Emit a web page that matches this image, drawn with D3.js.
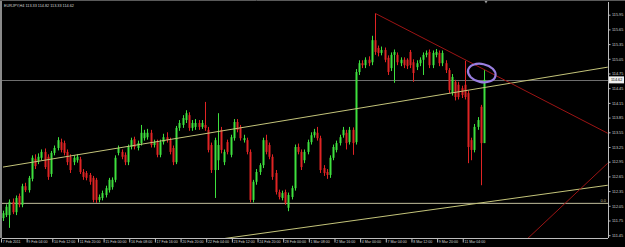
<!DOCTYPE html>
<html>
<head>
<meta charset="utf-8">
<script src="https://cdn.jsdelivr.net/npm/d3@7"></script>
<style>
  html, body { margin: 0; padding: 0; background: #000; }
  svg { display: block; }
</style>
</head>
<body>
<svg id="chart_svg"></svg>
<script>
// EURJPY H4, one value per bar
var opens = [
  111.80,111.86,111.86,112.13,111.92,112.25,112.07,112.45,112.37,112.60,
  113.01,112.95,113.03,113.15,113.05,112.70,113.13,113.23,113.35,113.33,
  113.15,113.05,112.94,112.98,113.00,112.74,112.72,112.68,112.62,112.58,
  112.17,112.21,112.27,112.37,112.43,112.58,113.13,113.15,113.09,112.94,
  113.25,113.41,113.23,113.33,113.43,113.45,113.54,113.29,113.35,113.09,
  113.35,113.45,113.39,113.23,112.94,113.64,113.70,113.80,113.90,113.64,
  113.66,113.74,113.66,113.70,113.60,113.29,112.78,112.98,113.60,112.94,
  113.35,113.09,113.43,113.76,113.66,113.39,113.39,113.15,112.17,112.54,
  112.74,112.88,113.39,113.29,113.05,112.72,112.33,112.21,112.33,112.01,
  112.23,112.41,113.25,113.15,112.98,113.15,113.35,113.49,113.54,113.43,
  112.82,112.74,112.68,113.03,113.19,113.33,113.49,113.54,113.35,113.60,
  113.35,114.78,114.96,114.92,115.03,114.98,115.43,115.27,115.17,115.23,
  115.07,114.86,115.13,115.13,114.96,115.03,115.03,115.19,114.98,114.88,
  114.96,115.03,115.13,115.19,114.92,115.13,115.17,114.96,114.96,114.82,
  114.35,114.58,114.52,114.45,114.52,114.35,113.39,113.19,113.66,114.07,
  113.33
];
var highs = [
  111.95,112.08,112.18,112.20,112.26,112.30,112.50,112.52,112.66,113.08,
  113.10,113.12,113.20,113.22,113.10,113.17,113.28,113.45,113.42,113.38,
  113.20,113.10,113.08,113.10,113.05,112.80,112.76,112.72,112.66,112.62,
  112.28,112.36,112.46,112.62,112.63,113.08,113.28,113.20,113.14,113.30,
  113.44,113.46,113.38,113.70,113.60,113.62,113.60,113.40,113.40,113.40,
  113.52,113.55,113.44,113.28,113.68,113.80,113.90,114.00,113.96,113.80,
  113.82,113.80,113.80,114.17,113.66,113.34,113.44,113.94,113.66,113.20,
  113.40,113.50,113.82,113.82,113.70,113.50,113.44,113.20,112.58,112.80,
  112.92,113.44,113.50,113.34,113.10,112.78,112.38,112.36,112.38,112.32,
  112.46,113.30,113.32,113.20,113.20,113.40,113.55,113.62,113.66,113.48,
  112.88,112.80,113.08,113.30,113.38,113.50,113.66,113.60,113.66,113.65,
  114.84,115.02,115.02,115.08,115.10,115.52,115.98,115.32,115.30,115.28,
  115.12,115.18,115.24,115.18,115.08,115.08,115.06,115.23,115.04,115.02,
  115.08,115.18,115.22,115.24,115.22,115.25,115.22,115.22,115.02,114.86,
  114.74,114.62,114.58,114.50,115.01,114.40,113.44,113.72,113.86,114.11,
  114.82
];
var lows = [
  111.74,111.82,111.60,111.88,111.86,112.02,112.02,112.33,112.32,112.55,
  112.80,112.90,112.98,112.80,112.58,112.64,113.08,113.18,113.14,113.08,
  112.88,112.72,112.88,112.93,112.70,112.58,112.57,112.48,112.12,112.11,
  112.12,112.16,112.22,112.32,112.38,112.53,113.08,113.00,112.88,112.88,
  113.20,113.20,113.18,113.28,113.38,113.40,113.24,113.24,113.04,113.04,
  113.30,113.34,113.10,112.88,112.90,113.58,113.64,113.74,113.58,113.58,
  113.60,113.60,113.62,113.58,113.14,112.72,112.21,112.78,113.12,112.88,
  113.10,113.04,113.38,113.55,113.38,113.34,113.10,112.12,112.12,112.48,
  112.68,112.82,113.10,113.00,112.58,112.28,112.18,112.16,112.07,111.94,
  112.18,112.36,113.10,112.78,112.92,113.10,113.30,113.44,113.38,112.72,
  112.66,112.60,112.62,112.98,113.14,113.28,113.44,113.20,113.30,113.09,
  113.30,114.72,114.86,114.86,114.90,114.92,115.13,115.10,115.12,114.98,
  114.72,114.80,114.56,114.92,114.90,114.86,114.84,114.86,114.58,114.82,
  114.90,114.72,115.08,114.86,114.86,115.08,114.90,114.90,114.76,114.35,
  114.30,114.20,114.22,114.25,114.22,112.92,112.98,113.14,113.60,112.47,
  113.33
];
var closes = [
  111.90,112.03,112.13,111.92,112.21,112.07,112.45,112.37,112.62,113.03,
  112.86,113.05,113.15,112.84,112.64,113.13,113.23,113.39,113.19,113.13,
  112.94,112.78,113.03,113.05,112.74,112.64,112.62,112.54,112.17,112.17,
  112.23,112.31,112.41,112.58,112.58,113.03,113.23,113.05,112.94,113.25,
  113.39,113.25,113.33,113.54,113.54,113.54,113.29,113.35,113.09,113.35,
  113.45,113.39,113.15,112.94,113.64,113.74,113.84,113.94,113.64,113.74,
  113.74,113.66,113.74,113.64,113.19,112.78,113.39,113.29,113.19,113.15,
  113.15,113.45,113.76,113.60,113.43,113.43,113.15,112.17,112.54,112.74,
  112.88,113.39,113.15,113.05,112.64,112.33,112.23,112.31,112.11,112.27,
  112.41,113.25,113.15,112.84,113.15,113.35,113.49,113.56,113.43,112.78,
  112.72,112.68,113.03,113.25,113.33,113.45,113.60,113.33,113.60,113.33,
  114.78,114.96,114.92,115.03,114.96,115.43,115.19,115.17,115.23,115.03,
  114.78,115.13,115.19,114.98,115.03,114.92,114.90,114.92,114.76,114.96,
  115.03,115.13,115.17,114.92,115.17,115.19,114.96,115.17,114.82,114.41,
  114.68,114.27,114.27,114.31,114.27,113.25,113.19,113.66,113.80,113.33,
  114.62
];

// time axis: bar index of each label and its text
var tick_index = [0, 8, 16, 24, 32, 40, 48, 56, 64, 72, 80, 88, 96, 104, 112, 120, 128, 136, 144];
var tick_labels = ["7 Feb 2011", "9 Feb 04:00", "10 Feb 12:00", "11 Feb 20:00", "15 Feb 00:00",
  "16 Feb 08:00", "17 Feb 16:00", "20 Feb 20:00", "22 Feb 04:00", "23 Feb 12:00", "24 Feb 20:00",
  "28 Feb 00:00", "1 Mar 08:00", "2 Mar 16:00", "4 Mar 00:00", "7 Mar 04:00", "8 Mar 12:00",
  "9 Mar 20:00", "11 Mar 04:00"];
var price_ticks = [115.95, 115.65, 115.35, 115.05, 114.75, 114.45, 114.15, 113.85,
  113.55, 113.25, 112.95, 112.65, 112.35, 112.05, 111.75, 111.45];

// drawn objects: [bar index, price] end points
var channel_upper = [[0, 112.84], [188.6, 114.88]];
var channel_lower = [[60, 111.30], [188.6, 112.47]];
var red_down = [[116, 115.98], [188.6, 113.53]];
var red_up = [[160, 111.16], [188.6, 112.92]];
var fibo_level = 112.10;
var bid_price = 114.62;
var circle_mark = [149.3, 114.76];
var title_text = "EURJPY,H4  113.33 114.82 113.33 114.62";

var width = 625;
var height = 247;
var plot_left = 2;
var plot_top = 2;
var plot_right = 608;
var plot_bottom = 238;
var bull_color = "#3ee03e";
var bear_color = "#e02424";
var text_color = "#d4d4d4";
var font = "'Liberation Sans', Arial, sans-serif";

var svg = d3.select("#chart_svg")
            .attr("width", width)
            .attr("height", height)
            .attr("font-family", font);

svg.append("rect").attr("width", width).attr("height", height).attr("fill", "#000");

var x_scale = d3.scaleLinear().domain([0, closes.length - 1]).range([3, 484]);
var y_scale = d3.scaleLinear().domain([111.45, 115.95]).range([235.2, 14.7]);

svg.append("clipPath").attr("id", "plot_clip")
   .append("rect")
   .attr("x", plot_left).attr("y", plot_top)
   .attr("width", plot_right - plot_left).attr("height", plot_bottom - plot_top);

var plot = svg.append("g").attr("clip-path", "url(#plot_clip)");

// fibo + bid line
plot.append("line")
    .attr("x1", plot_left).attr("x2", plot_right)
    .attr("y1", y_scale(fibo_level)).attr("y2", y_scale(fibo_level))
    .attr("stroke", "#c2bf9c").attr("stroke-width", 1);

plot.append("line")
    .attr("x1", plot_left).attr("x2", plot_right)
    .attr("y1", Math.round(y_scale(bid_price)) + 0.5).attr("y2", Math.round(y_scale(bid_price)) + 0.5)
    .attr("stroke", "#6e6e6e").attr("stroke-width", 1);

// candles
var bars = d3.range(closes.length);

plot.selectAll(".wick")
    .data(bars)
    .enter()
    .append("line")
    .attr("class", "wick")
    .attr("x1", (d) => Math.round(x_scale(d)) + 0.5)
    .attr("x2", (d) => Math.round(x_scale(d)) + 0.5)
    .attr("y1", (d) => y_scale(highs[d]))
    .attr("y2", (d) => y_scale(lows[d]))
    .attr("stroke", (d) => closes[d] >= opens[d] ? bull_color : bear_color)
    .attr("stroke-width", 1);

plot.selectAll(".body")
    .data(bars)
    .enter()
    .append("rect")
    .attr("class", "body")
    .attr("x", (d) => Math.round(x_scale(d)) - 0.5)
    .attr("width", 2)
    .attr("y", (d) => y_scale(Math.max(opens[d], closes[d])))
    .attr("height", (d) => Math.max(1, Math.abs(y_scale(opens[d]) - y_scale(closes[d]))))
    .attr("fill", (d) => closes[d] >= opens[d] ? bull_color : bear_color);

// trend lines
var line_gen = d3.line().x((d) => x_scale(d[0])).y((d) => y_scale(d[1]));

plot.append("path").attr("d", line_gen(channel_upper))
    .attr("fill", "none").attr("stroke", "#c4c47a").attr("stroke-width", 1);
plot.append("path").attr("d", line_gen(channel_lower))
    .attr("fill", "none").attr("stroke", "#c4c47a").attr("stroke-width", 1);
plot.append("path").attr("d", line_gen(red_down))
    .attr("fill", "none").attr("stroke", "#9c1414").attr("stroke-width", 1);
plot.append("path").attr("d", line_gen(red_up))
    .attr("fill", "none").attr("stroke", "#9c1414").attr("stroke-width", 1);

// hand drawn circle
plot.append("ellipse")
    .attr("cx", x_scale(circle_mark[0]))
    .attr("cy", y_scale(circle_mark[1]))
    .attr("rx", 14).attr("ry", 9)
    .attr("transform", "rotate(12," + x_scale(circle_mark[0]) + "," + y_scale(circle_mark[1]) + ")")
    .attr("fill", "none")
    .attr("stroke", "#9a7fe0")
    .attr("stroke-width", 2.2);

// fibo label
svg.append("text")
   .text("0.0")
   .attr("x", plot_right - 2)
   .attr("y", y_scale(fibo_level) - 1)
   .attr("text-anchor", "end")
   .attr("font-size", "4px")
   .attr("fill", "#c2bf9c");

// frame
svg.append("line").attr("x1", 1).attr("x2", 1).attr("y1", 0).attr("y2", plot_bottom)
   .attr("stroke", "#8a8a8a").attr("stroke-width", 2);
svg.append("line").attr("x1", 0).attr("x2", width).attr("y1", 0.5).attr("y2", 0.5)
   .attr("stroke", "#5a5a5a").attr("stroke-width", 1);
svg.append("line").attr("x1", plot_right + 0.5).attr("x2", plot_right + 0.5).attr("y1", plot_top).attr("y2", plot_bottom)
   .attr("stroke", "#bdbdbd").attr("stroke-width", 1);
svg.append("line").attr("x1", plot_left).attr("x2", plot_right).attr("y1", plot_bottom + 0.5).attr("y2", plot_bottom + 0.5)
   .attr("stroke", "#bdbdbd").attr("stroke-width", 1);

// chart shift marker
var shift_x = x_scale(closes.length - 1) + 2;
svg.append("path")
   .attr("d", "M" + (shift_x - 1.5) + ",1 L" + (shift_x + 1.5) + ",1 L" + shift_x + ",3.5 Z")
   .attr("fill", "#9a9a9a");

// price axis
var y_axis = d3.axisRight(y_scale)
               .tickValues(price_ticks)
               .tickSize(2)
               .tickPadding(1.5)
               .tickFormat(d3.format(".2f"));

var y_axis_g = svg.append("g")
                  .attr("transform", "translate(" + (plot_right + 0.5) + ",0)")
                  .call(y_axis);
y_axis_g.select(".domain").remove();
y_axis_g.selectAll("line").attr("stroke", "#bdbdbd");
y_axis_g.selectAll("text")
        .attr("fill", text_color)
        .attr("font-size", "3.8px")
        .attr("font-family", font);

// bid price box
svg.append("rect")
   .attr("x", plot_right + 1).attr("y", y_scale(bid_price) - 3.5)
   .attr("width", 15).attr("height", 7)
   .attr("fill", "#f0f0f0");
svg.append("text")
   .text(d3.format(".2f")(bid_price))
   .attr("x", plot_right + 3).attr("y", y_scale(bid_price) + 1.5)
   .attr("font-size", "3.8px")
   .attr("fill", "#000");

// time axis
var x_axis = d3.axisBottom(x_scale)
               .tickValues(tick_index)
               .tickSize(4)
               .tickFormat((d, i) => tick_labels[i]);

var x_axis_g = svg.append("g")
                  .attr("transform", "translate(-2," + (plot_bottom + 0.5) + ")")
                  .call(x_axis);
x_axis_g.select(".domain").remove();
x_axis_g.selectAll("line").attr("stroke", "#bdbdbd");
x_axis_g.selectAll("text")
        .attr("text-anchor", "start")
        .attr("x", 1.2)
        .attr("y", 1.6)
        .attr("fill", text_color)
        .attr("font-size", "3.6px")
        .attr("font-family", font);
x_axis_g.select(".tick").attr("transform", "translate(3.5,0)");

// title
svg.append("text")
   .text(title_text)
   .attr("x", 4)
   .attr("y", 7)
   .attr("font-size", "3.8px")
   .attr("fill", text_color);
</script>
</body>
</html>
